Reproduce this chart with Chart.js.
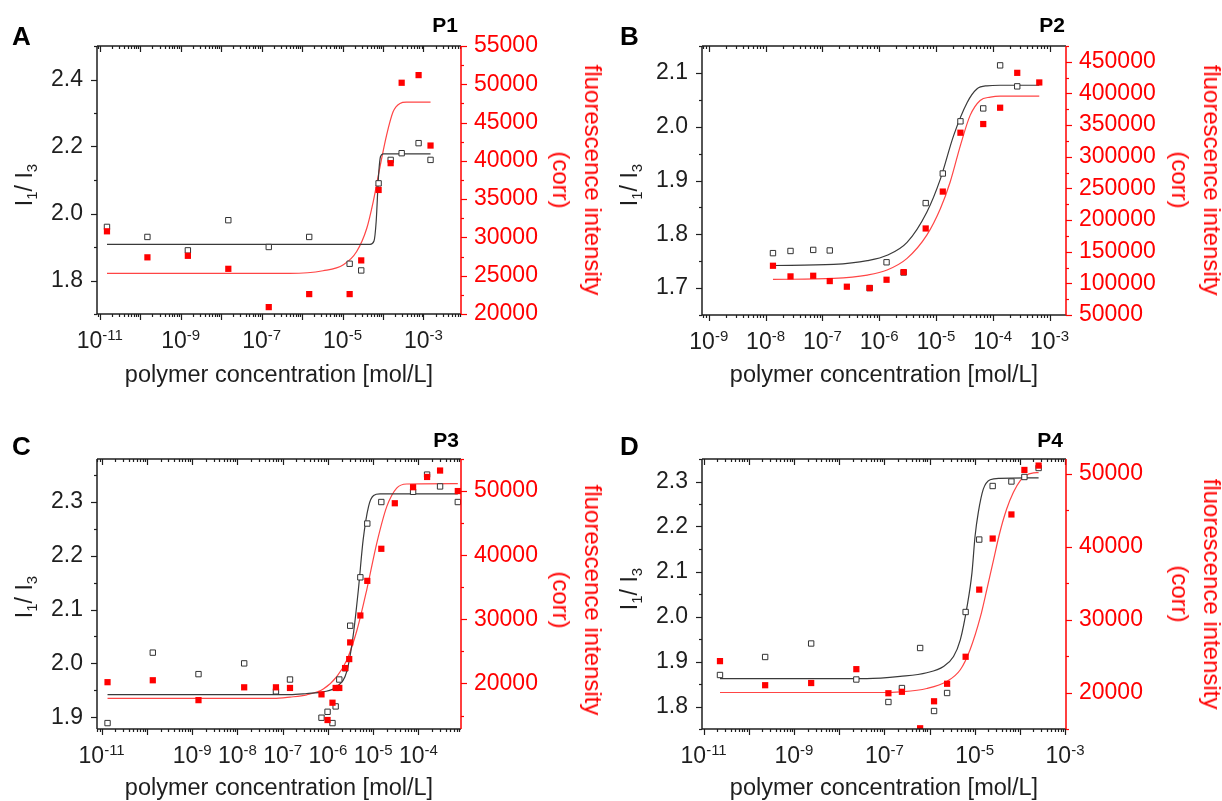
<!DOCTYPE html>
<html>
<head>
<meta charset="utf-8">
<script src="https://cdn.jsdelivr.net/npm/chart.js@4.4.1/dist/chart.umd.min.js"></script>
<style>
  body { margin: 0; background: #fff; }
  #page { position: relative; width: 1222px; height: 801px; overflow: hidden;
          font-family: "Liberation Sans", Arial, sans-serif; color: #1e1e1e; }
  canvas { position: absolute; }
  .txt { position: absolute; white-space: nowrap; line-height: 1; }
  .rot { position: absolute; white-space: nowrap; text-align: center; }
  .rot sub { font-size: 15px; vertical-align: baseline; position: relative; top: 5px; }
</style>
</head>
<body>
<div id="page"></div>
<script>
// ---- P1 ----
const p1Conc = [1.5e-11, 1.5e-10, 1.5e-9, 1.5e-8, 1.5e-7, 1.5e-6, 1.5e-5, 2.9e-5, 7.8e-5, 1.55e-4, 2.9e-4, 7.6e-4, 1.5e-3];
const p1Ratio = [1.96, 1.93, 1.89, 1.98, 1.90, 1.93, 1.85, 1.83, 2.09, 2.16, 2.18, 2.21, 2.16];
const p1Fluor = [30800, 27400, 27600, 25900, 20900, 22600, 22600, 27000, 36200, 39700, 50200, 51200, 42000];
const p1RatioFitConc = [1.5e-11, 4.8e-5, 6.0e-5, 6.8e-5, 7.8e-5, 8.7e-5, 1.02e-4, 1.5e-3];
const p1RatioFit = [1.908, 1.908, 1.918, 1.977, 2.116, 2.170, 2.178, 2.178];
const p1FluorFitConc = [1.5e-11, 5.0e-7, 3.3e-6, 1.05e-5, 2.24e-5, 3.98e-5, 5.75e-5, 8.3e-5, 1.23e-4, 1.78e-4, 2.63e-4, 3.8e-4, 1.5e-3];
const p1FluorFit = [25300, 25300, 25650, 26430, 28160, 31200, 34680, 39020, 43360, 46400, 47490, 47660, 47660];
const p1Decades = [-11, -9, -7, -5, -3];
const p1LeftLabels = [1.8, 2.0, 2.2, 2.4];
const p1RightLabels = [20000, 25000, 30000, 35000, 40000, 45000, 50000, 55000];

// ---- P2 ----
const p2RatioConc = [1.35e-8, 2.75e-8, 6.9e-8, 1.35e-7, 6.8e-7, 1.35e-6, 2.7e-6, 6.6e-6, 1.32e-5, 2.7e-5, 6.8e-5, 1.35e-4, 2.7e-4];
const p2Ratio = [1.765, 1.769, 1.771, 1.770, 1.700, 1.748, 1.729, 1.858, 1.913, 2.010, 2.034, 2.114, 2.075];
const p2FluorConc = [1.35e-8, 2.75e-8, 6.9e-8, 1.35e-7, 2.7e-7, 6.8e-7, 1.35e-6, 2.7e-6, 6.6e-6, 1.32e-5, 2.7e-5, 6.8e-5, 1.35e-4, 2.7e-4, 6.6e-4];
const p2Fluor = [127800, 111000, 112000, 103600, 94700, 92600, 105700, 117800, 186700, 245000, 338000, 351700, 377500, 432600, 417400];
const p2RatioFitConc = [1.35e-8, 1.58e-7, 6.2e-7, 1.38e-6, 3.1e-6, 6.9e-6, 1.2e-5, 2.04e-5, 3.55e-5, 5.25e-5, 7.9e-5, 1.35e-4, 6.6e-4];
const p2RatioFit = [1.742, 1.744, 1.751, 1.761, 1.785, 1.841, 1.903, 1.983, 2.045, 2.070, 2.076, 2.077, 2.077];
const p2FluorFitConc = [1.35e-8, 1.58e-7, 6.2e-7, 1.38e-6, 3.1e-6, 6.9e-6, 1.2e-5, 1.78e-5, 2.7e-5, 4.0e-5, 6.0e-5, 9.1e-5, 1.35e-4, 6.6e-4];
const p2FluorFit = [106200, 107800, 113100, 121000, 139400, 176100, 218200, 260200, 318100, 365400, 389000, 394300, 395900, 395900];
const p2Decades = [-9, -8, -7, -6, -5, -4, -3];
const p2LeftLabels = [1.7, 1.8, 1.9, 2.0, 2.1];
const p2RightLabels = [50000, 100000, 150000, 200000, 250000, 300000, 350000, 400000, 450000];

// ---- P3 ----
const p3RatioConc = [1.35e-11, 1.35e-10, 1.38e-9, 1.41e-8, 7.1e-8, 1.45e-7, 7.2e-7, 9.8e-7, 1.26e-6, 1.48e-6, 1.78e-6, 2.4e-6, 3.1e-6, 5.2e-6, 7.4e-6, 1.51e-5, 7.6e-5, 1.55e-4, 3.0e-4, 7.4e-4];
const p3Ratio = [1.889, 2.020, 1.980, 2.000, 1.948, 1.970, 1.899, 1.910, 1.889, 1.920, 1.970, 1.991, 2.070, 2.160, 2.260, 2.300, 2.319, 2.351, 2.329, 2.300];
const p3FluorConc = [1.35e-11, 1.35e-10, 1.38e-9, 1.41e-8, 7.1e-8, 1.45e-7, 7.2e-7, 9.8e-7, 1.26e-6, 1.48e-6, 1.78e-6, 2.4e-6, 2.95e-6, 3.1e-6, 5.2e-6, 7.4e-6, 1.51e-5, 3.0e-5, 7.6e-5, 1.55e-4, 3.0e-4, 7.4e-4];
const p3Fluor = [20200, 20500, 17400, 19400, 19400, 19300, 18300, 14300, 17000, 19300, 19300, 22400, 23800, 26400, 30600, 36000, 41000, 48100, 50600, 52200, 53200, 50000];
const p3RatioFitConc = [1.35e-11, 1.45e-7, 3.4e-7, 7.9e-7, 1.58e-6, 2.63e-6, 3.6e-6, 4.7e-6, 6.0e-6, 7.9e-6, 1.02e-5, 1.41e-5, 7.4e-4];
const p3RatioFit = [1.942, 1.942, 1.944, 1.947, 1.957, 1.986, 2.051, 2.137, 2.230, 2.292, 2.312, 2.315, 2.315];
const p3FluorFitConc = [1.35e-11, 6.3e-8, 1.45e-7, 3.4e-7, 7.9e-7, 1.58e-6, 2.63e-6, 4.4e-6, 7.2e-6, 1.2e-5, 2.0e-5, 3.3e-5, 5.5e-5, 7.4e-4];
const p3FluorFit = [17660, 17660, 17870, 18230, 19120, 21090, 23690, 28370, 34610, 41890, 47610, 50470, 51100, 51150];
const p3Decades = [-11, -9, -8, -7, -6, -5, -4];
const p3LeftLabels = [1.9, 2.0, 2.1, 2.2, 2.3];
const p3RightLabels = [20000, 30000, 40000, 50000];

// ---- P4 ----
const p4Conc = [2.3e-11, 2.3e-10, 2.4e-9, 2.4e-8, 1.23e-7, 2.45e-7, 6.2e-7, 1.26e-6, 2.45e-6, 6.3e-6, 1.26e-5, 2.5e-5, 6.5e-5, 1.26e-4, 2.6e-4];
const p4Ratio = [1.870, 1.910, 1.940, 1.860, 1.810, 1.841, 1.930, 1.790, 1.830, 2.010, 2.171, 2.290, 2.300, 2.310, 2.330];
const p4Fluor = [24300, 21000, 21300, 23200, 19900, 20100, 15100, 18800, 21200, 24900, 34100, 41100, 44400, 50500, 51100];
const p4RatioFitConc = [2.3e-11, 4.1e-8, 2.24e-7, 8.7e-7, 2.04e-6, 3.4e-6, 4.8e-6, 6.8e-6, 8.7e-6, 1.02e-5, 1.2e-5, 1.55e-5, 2.2e-5, 3.6e-5, 2.6e-4];
const p4RatioFit = [1.862, 1.862, 1.867, 1.875, 1.889, 1.911, 1.948, 2.023, 2.097, 2.179, 2.231, 2.283, 2.304, 2.307, 2.308];
const p4FluorFitConc = [2.3e-11, 9.5e-8, 2.24e-7, 8.7e-7, 2.4e-6, 4.8e-6, 7.9e-6, 1.35e-5, 1.86e-5, 2.63e-5, 3.6e-5, 5.1e-5, 7.2e-5, 1.02e-4, 1.41e-4, 2.0e-4, 2.6e-4];
const p4FluorFit = [20000, 20000, 20090, 20550, 21510, 23120, 25870, 30460, 34130, 38260, 41930, 45140, 47430, 49040, 49820, 50090, 50140];
const p4Decades = [-11, -9, -7, -5, -3];
const p4LeftLabels = [1.8, 1.9, 2.0, 2.1, 2.2, 2.3];
const p4RightLabels = [20000, 30000, 40000, 50000];

const INK = '#1e1e1e';
const RED = '#ff0000';
const FONT = '"Liberation Sans", Arial, sans-serif';

Chart.defaults.font.family = FONT;

const panels = [
  { letter: 'A', name: 'P1', ox: 0, oy: 0, area: [97, 461, 46, 314],
    xRange: [8.5e-12, 8.5e-3], decades: p1Decades,
    yRange: [1.7, 2.5], yStep: 0.1, yLabels: p1LeftLabels, yFmt: v => v.toFixed(1),
    y2Range: [20000, 55000], y2Step: 2500, y2Labels: p1RightLabels,
    ratio: [p1Conc, p1Ratio], fluor: [p1Conc, p1Fluor],
    ratioFit: [p1RatioFitConc, p1RatioFit], fluorFit: [p1FluorFitConc, p1FluorFit],
    letterAt: [12, 45], nameAt: [458, 32], leftTitle: [25, 185], rightTitle: [577, 180], xTitleBase: 383 },
  { letter: 'B', name: 'P2', ox: 611, oy: 0, area: [702, 1066, 46, 315],
    xRange: [7.6e-10, 1.95e-3], decades: p2Decades,
    yRange: [1.65, 2.15], yStep: 0.05, yLabels: p2LeftLabels, yFmt: v => v.toFixed(1),
    y2Range: [50000, 475000], y2Step: 25000, y2Labels: p2RightLabels,
    ratio: [p2RatioConc, p2Ratio], fluor: [p2FluorConc, p2Fluor],
    ratioFit: [p2RatioFitConc, p2RatioFit], fluorFit: [p2FluorFitConc, p2FluorFit],
    letterAt: [620, 45], nameAt: [1065, 32], leftTitle: [630, 185], rightTitle: [1196, 180], xTitleBase: 383 },
  { letter: 'C', name: 'P3', ox: 0, oy: 400, area: [97, 461, 459, 729],
    xRange: [7.9e-12, 8.7e-4], decades: p3Decades,
    yRange: [1.878, 2.38], yStep: 0.05, yLabels: p3LeftLabels, yFmt: v => v.toFixed(1),
    y2Range: [12900, 55000], y2Step: 5000, y2Labels: p3RightLabels,
    ratio: [p3RatioConc, p3Ratio], fluor: [p3FluorConc, p3Fluor],
    ratioFit: [p3RatioFitConc, p3RatioFit], fluorFit: [p3FluorFitConc, p3FluorFit],
    letterAt: [12, 455], nameAt: [459, 447], leftTitle: [25, 597], rightTitle: [577, 600], xTitleBase: 796 },
  { letter: 'D', name: 'P4', ox: 611, oy: 400, area: [702, 1066, 459, 729],
    xRange: [9.2e-12, 1.05e-3], decades: p4Decades,
    yRange: [1.75, 2.35], yStep: 0.05, yLabels: p4LeftLabels, yFmt: v => v.toFixed(1),
    y2Range: [15000, 52000], y2Step: 5000, y2Labels: p4RightLabels,
    ratio: [p4Conc, p4Ratio], fluor: [p4Conc, p4Fluor],
    ratioFit: [p4RatioFitConc, p4RatioFit], fluorFit: [p4FluorFitConc, p4FluorFit],
    letterAt: [620, 455], nameAt: [1063, 447], leftTitle: [630, 589], rightTitle: [1196, 594], xTitleBase: 796 }
];

const page = document.getElementById('page');

function pts(xs, ys) {
  return xs.map((x, i) => ({ x: x, y: ys[i] }));
}

function isIn(list, v, tol) {
  return list.some(l => Math.abs(l - v) < tol);
}

// ticks at 1..9 x 10^n; decades are the long ones
function logTicks(min, max) {
  const out = [];
  for (let e = Math.floor(Math.log10(min)); e <= Math.ceil(Math.log10(max)); e++) {
    for (let k = 1; k <= 9; k++) {
      const v = k * Math.pow(10, e);
      if (v >= min && v <= max) out.push({ value: v, big: k === 1 });
    }
  }
  return out;
}

function linTicks(min, max, step, labels) {
  const out = [];
  const tol = step / 100;
  for (let i = Math.ceil((min - tol) / step); i * step <= max + tol; i++) {
    const v = +(i * step).toFixed(6);
    out.push({ value: v, big: isIn(labels, v, tol) });
  }
  return out;
}

function line(ctx, x1, y1, x2, y2) {
  ctx.beginPath();
  ctx.moveTo(x1, y1);
  ctx.lineTo(x2, y2);
  ctx.stroke();
}

// box, tick marks and the 10^n labels
const framePlugin = {
  id: 'frame',
  afterDatasetsDraw(chart) {
    const { ctx, chartArea: a, scales } = chart;
    const p = chart.options.plugins.frame;
    ctx.save();
    ctx.lineWidth = 1.2;
    ctx.strokeStyle = INK;
    scales.x.ticks.forEach(t => {
      const px = Math.round(scales.x.getPixelForValue(t.value)) + 0.5;
      const len = t.big ? 6 : 3;
      line(ctx, px, a.bottom, px, a.bottom + len);
      line(ctx, px, a.top, px, a.top + len);
    });
    scales.y.ticks.forEach(t => {
      const py = Math.round(scales.y.getPixelForValue(t.value)) + 0.5;
      line(ctx, a.left - (t.big ? 6 : 3), py, a.left, py);
    });
    ctx.strokeStyle = RED;
    scales.y2.ticks.forEach(t => {
      const py = Math.round(scales.y2.getPixelForValue(t.value)) + 0.5;
      line(ctx, a.right, py, a.right + (t.big ? 6 : 3), py);
    });
    ctx.lineWidth = 1.5;
    ctx.strokeStyle = INK;
    line(ctx, a.left, a.top, a.right, a.top);
    line(ctx, a.left, a.bottom, a.right, a.bottom);
    line(ctx, a.left, a.top, a.left, a.bottom);
    ctx.strokeStyle = RED;
    line(ctx, a.right, a.top, a.right, a.bottom);

    ctx.fillStyle = INK;
    ctx.textBaseline = 'alphabetic';
    const base = a.bottom + 34;
    p.decades.forEach(e => {
      const px = scales.x.getPixelForValue(Math.pow(10, e));
      ctx.font = '23px ' + FONT;
      const wb = ctx.measureText('10').width;
      ctx.font = '15px ' + FONT;
      const we = ctx.measureText(String(e)).width;
      const x0 = px - (wb + we) / 2;
      ctx.font = '23px ' + FONT;
      ctx.fillText('10', x0, base);
      ctx.font = '15px ' + FONT;
      ctx.fillText(String(e), x0 + wb, base - 8);
    });
    ctx.restore();
  }
};

function addText(html, x, baseline, size, style) {
  const d = document.createElement('div');
  d.className = 'txt';
  d.innerHTML = html;
  d.style.fontSize = size + 'px';
  d.style.left = x + 'px';
  d.style.top = (baseline - 0.8465 * size) + 'px';
  Object.assign(d.style, style || {});
  page.appendChild(d);
}

function addRotated(html, cx, cy, size, lh, deg, color) {
  const d = document.createElement('div');
  d.className = 'rot';
  d.innerHTML = html;
  d.style.fontSize = size + 'px';
  d.style.lineHeight = lh + 'px';
  d.style.left = cx + 'px';
  d.style.top = cy + 'px';
  d.style.color = color;
  d.style.transform = 'translate(-50%, -50%) rotate(' + deg + 'deg)';
  page.appendChild(d);
}

function makePanel(p) {
  const W = 611, H = 400;
  const cv = document.createElement('canvas');
  cv.width = W;
  cv.height = H;
  cv.style.left = p.ox + 'px';
  cv.style.top = p.oy + 'px';
  page.appendChild(cv);

  const L = p.area[0] - p.ox, R = p.area[1] - p.ox;
  const T = p.area[2] - p.oy, B = p.area[3] - p.oy;

  new Chart(cv.getContext('2d'), {
    type: 'scatter',
    data: {
      datasets: [
        { label: 'fluorescence', data: pts(p.fluor[0], p.fluor[1]), yAxisID: 'y2',
          pointStyle: 'rect', pointRadius: 4.4, backgroundColor: RED, borderColor: RED, borderWidth: 0 },
        { label: 'I1/I3', data: pts(p.ratio[0], p.ratio[1]), yAxisID: 'y',
          pointStyle: 'rect', pointRadius: 3.8, backgroundColor: '#fff', borderColor: '#333', borderWidth: 1 },
        { label: 'I1/I3 fit', data: pts(p.ratioFit[0], p.ratioFit[1]), yAxisID: 'y',
          showLine: true, pointRadius: 0, borderColor: '#3a3a3a', borderWidth: 1.2,
          cubicInterpolationMode: 'monotone' },
        { label: 'fluorescence fit', data: pts(p.fluorFit[0], p.fluorFit[1]), yAxisID: 'y2',
          showLine: true, pointRadius: 0, borderColor: '#ff4545', borderWidth: 1.2,
          cubicInterpolationMode: 'monotone' }
      ]
    },
    options: {
      responsive: false,
      animation: false,
      devicePixelRatio: 1,
      layout: { padding: { top: T, left: 0, right: 0, bottom: 0 } },
      plugins: { legend: { display: false }, tooltip: { enabled: false },
                 frame: { decades: p.decades } },
      scales: {
        x: {
          type: 'logarithmic', position: 'bottom', min: p.xRange[0], max: p.xRange[1],
          afterBuildTicks: s => { s.ticks = logTicks(p.xRange[0], p.xRange[1]); },
          ticks: { display: false },
          grid: { display: false, drawTicks: false }, border: { display: false },
          afterFit: s => { s.height = H - B; }
        },
        y: {
          type: 'linear', position: 'left', min: p.yRange[0], max: p.yRange[1],
          afterBuildTicks: s => { s.ticks = linTicks(p.yRange[0], p.yRange[1], p.yStep, p.yLabels); },
          ticks: { autoSkip: false, padding: 14, color: INK, font: { size: 23 },
                   callback: v => isIn(p.yLabels, v, 1e-6) ? p.yFmt(v) : '' },
          grid: { display: false, drawTicks: false }, border: { display: false },
          afterFit: s => { s.width = L; }
        },
        y2: {
          type: 'linear', position: 'right', min: p.y2Range[0], max: p.y2Range[1],
          afterBuildTicks: s => { s.ticks = linTicks(p.y2Range[0], p.y2Range[1], p.y2Step, p.y2Labels); },
          ticks: { autoSkip: false, padding: 13, color: RED, font: { size: 23 },
                   callback: v => isIn(p.y2Labels, v, 1) ? String(v) : '' },
          grid: { display: false, drawTicks: false }, border: { display: false },
          afterFit: s => { s.width = W - R; }
        }
      }
    },
    plugins: [framePlugin]
  });

  addText(p.letter, p.letterAt[0], p.letterAt[1], 26, { fontWeight: 'bold', color: '#000' });
  addText(p.name, p.nameAt[0], p.nameAt[1], 21, { fontWeight: 'bold', color: '#000', transform: 'translateX(-100%)' });
  addRotated('I<sub>1</sub>/ I<sub>3</sub>', p.leftTitle[0], p.leftTitle[1], 23, 22, -90, INK);
  addRotated('fluorescence intensity<br>(corr)', p.rightTitle[0], p.rightTitle[1], 24, 32, 90, RED);
  addText('polymer concentration [mol/L]', (p.area[0] + p.area[1]) / 2, p.xTitleBase, 23.5,
          { color: INK, transform: 'translateX(-50%)' });
}

panels.forEach(makePanel);
</script>
</body>
</html>
